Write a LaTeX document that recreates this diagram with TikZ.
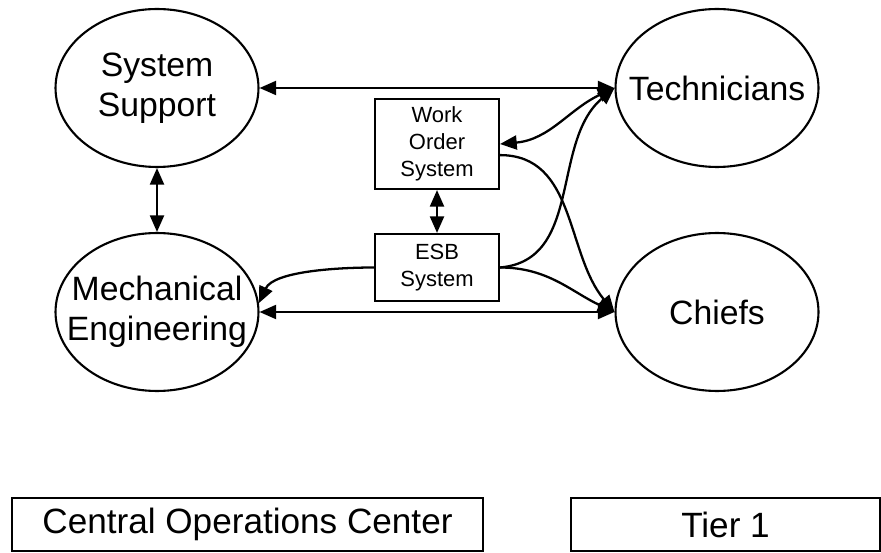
\documentclass[tikz,border=0pt]{standalone}
\usepackage{fontspec}
\setmainfont{Liberation Sans}
\usepackage{tikz}
\usetikzlibrary{arrows.meta,shapes.geometric}

\begin{document}
\begin{tikzpicture}[x=0.02cm,y=0.02cm,
    >={Triangle[length=9.5pt,width=8pt]},
    ell/.style={draw,ellipse,line width=1.2pt,minimum width=4.06cm,minimum height=3.16cm,
      inner xsep=-14pt,inner ysep=0pt,align=center,font=\fontsize{19.2}{23}\selectfont},
    sysbox/.style={draw,rectangle,line width=1.2pt,minimum width=2.48cm,inner sep=0pt,
      align=center,font=\fontsize{12.5}{15.3}\selectfont},
    tierbox/.style={draw,rectangle,line width=1.2pt,minimum height=1.06cm,inner sep=0pt,
      font=\fontsize{20}{23}\selectfont},
    link/.style={line width=1.3pt}]
  \useasboundingbox (0,0) rectangle (881,-553);

   \draw (157,-88) node[ell] (support) {System\\Support};
   \draw (157,-312) node[ell] (mech) {Mechanical\\Engineering};
   \draw (717,-88) node[ell] (tech) {Technicians};
   \draw (717,-312) node[ell] (chiefs) {Chiefs};
    \draw (437,-144) node[sysbox,minimum height=1.8cm] (wos) {Work\\Order\\System};
    \draw (437,-267.5) node[sysbox,minimum height=1.34cm] (esb) {ESB\\System};
  \draw (247.5,-524.5) node[tierbox,minimum width=9.42cm] (coc) {Central Operations Center};
  \draw (725.5,-524.5) node[tierbox,minimum width=6.18cm] (tier) {Tier 1};

       \path[link,<->] (support) edge (tech);
       \path[link,<->] (support) edge (mech);
       \path[link,<->] (mech) edge (chiefs);
       \path[link,<->] (wos) edge (esb);
       \path[link,->] (esb.west) edge[out=180,in=65,looseness=0.75] (mech.5);
       \path[link,<->] (wos.east) edge[out=5,in=205] (tech.west);
       \path[link,->] (wos.-10) edge[out=0,in=130] (chiefs.west);
       \path[link,->] (esb.east) edge[out=5,in=220] (tech.west);
       \path[link,->] (esb.east) edge[out=0,in=155] (chiefs.west);
\end{tikzpicture}
\end{document}
